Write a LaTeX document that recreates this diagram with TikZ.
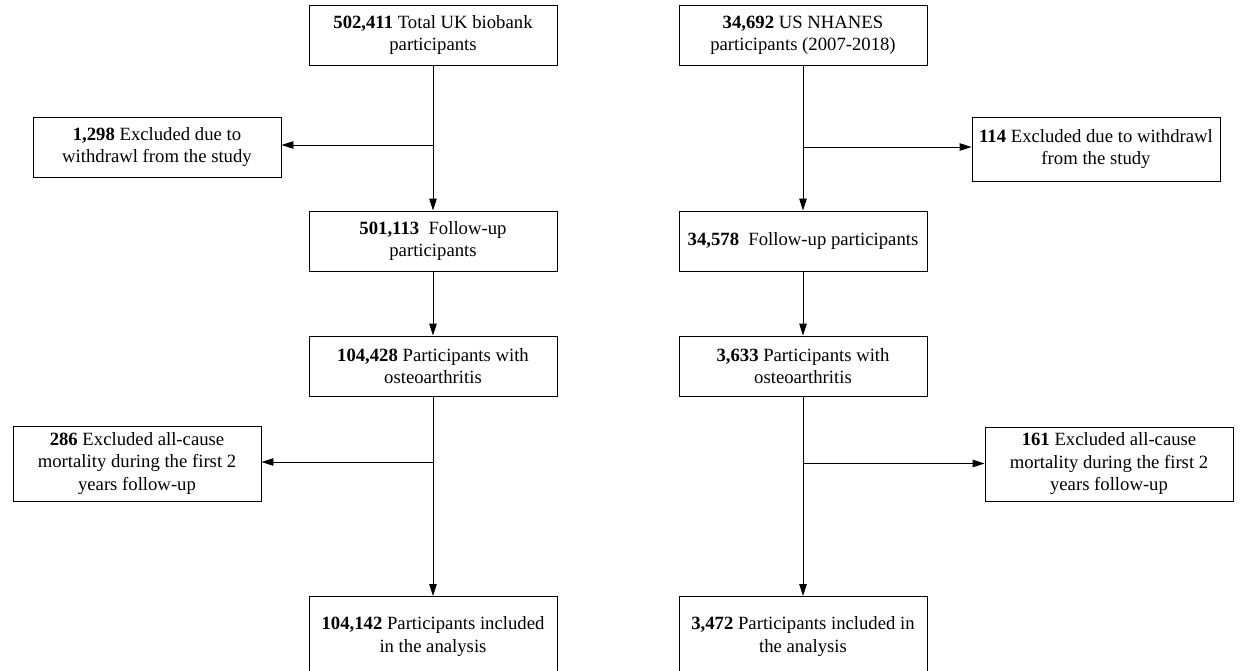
\documentclass[tikz,border=0pt]{standalone}
\usepackage{fontspec}
\setmainfont{Liberation Serif}
\usetikzlibrary{arrows.meta}
\tikzset{
  box/.style={draw, line width=0.9pt, minimum width=248pt, minimum height=60pt, inner sep=0pt, align=center,
    font=\fontsize{18.7}{22.5}\selectfont},
  arr/.style={line width=0.9pt, -{Triangle[length=12pt,width=7.5pt]}},
  ln/.style={line width=0.9pt}
}
\begin{document}
\begin{tikzpicture}[x=1pt,y=-1pt]
\useasboundingbox (0,0) rectangle (1240,670);
\clip (0,0) rectangle (1240,670);
% left column
\node[box] (a1) at (433,35) {\textbf{502,411} Total UK biobank\\participants};
\node[box] (x1) at (157,147) {\textbf{1,298} Excluded due to\\withdrawl from the study};
\node[box] (a2) at (433,241) {\textbf{501,113}\ \ Follow-up\\participants};
\node[box] (a3) at (433,366) {\textbf{104,428} Participants with\\osteoarthritis};
\node[box, minimum height=75pt] (x2) at (137,463.5) {\textbf{286} Excluded all-cause\\mortality during the first 2\\years follow-up};
\node[box, minimum height=80pt, anchor=north] (a4) at (433,596) {\textbf{104,142} Participants included\\in the analysis};
% right column
\node[box] (b1) at (803,35.5) {\textbf{34,692} US NHANES\\participants (2007-2018)};
\node[box, minimum height=64pt] (y1) at (1096,149) {\textbf{114} Excluded due to withdrawl\\from the study};
\node[box] (b2) at (803,241) {\textbf{34,578}\ \ Follow-up participants};
\node[box] (b3) at (803,366) {\textbf{3,633} Participants with\\osteoarthritis};
\node[box, minimum height=74pt] (y2) at (1109,464) {\textbf{161} Excluded all-cause\\mortality during the first 2\\years follow-up};
\node[box, minimum height=80pt, anchor=north] (b4) at (803,596) {\textbf{3,472} Participants included in\\the analysis};
% branch points
\coordinate (c1) at (433,145);
\coordinate (c2) at (803,147);
\coordinate (c3) at (433,462);
\coordinate (c4) at (803,463.5);
% connectors
\draw[arr] (a1.south) -- (a2.north);
\draw[arr] (c1) -- (c1 -| x1.east);
\draw[arr] (a2.south) -- (a3.north);
\draw[arr] (a3.south) -- (a4.north);
\draw[arr] (c3) -- (c3 -| x2.east);
\draw[arr] (b1.south) -- (b2.north);
\draw[arr] (c2) -- (c2 -| y1.west);
\draw[arr] (b2.south) -- (b3.north);
\draw[arr] (b3.south) -- (b4.north);
\draw[arr] (c4) -- (c4 -| y2.west);
\end{tikzpicture}
\end{document}
